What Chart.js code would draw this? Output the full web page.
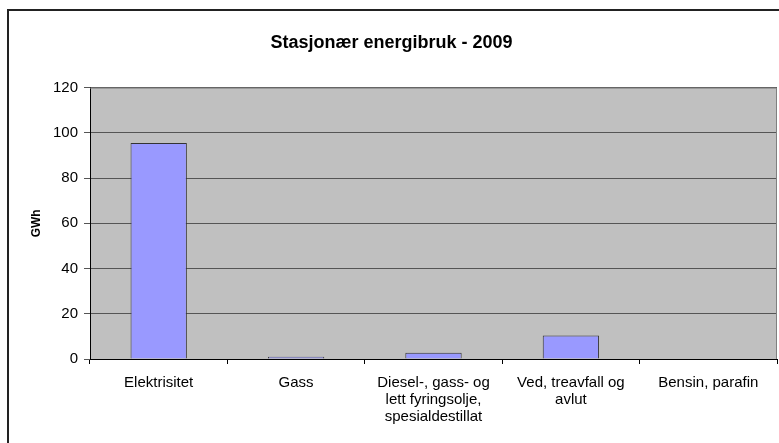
<!DOCTYPE html>
<html>
<head>
<meta charset="utf-8">
<script src="https://cdn.jsdelivr.net/npm/chart.js@4/dist/chart.umd.min.js"></script>
<style>
  html, body { margin: 0; padding: 0; background: #fff; }
  #wrap { width: 779px; height: 443px; position: relative; }
</style>
</head>
<body>
<div id="wrap"><canvas id="myChart"></canvas></div>
<script>
const kategorier = ['Elektrisitet', 'Gass', ['Diesel-, gass- og', 'lett fyringsolje,', 'spesialdestillat'], ['Ved, treavfall og', 'avlut'], 'Bensin, parafin'];
const gwh = [95.5, 1.0, 2.8, 10.4, 0];
const yTicks = [0, 20, 40, 60, 80, 100, 120];

// grå plotflate + ytre ramme som i Excel
const bakgrunn = {
  id: 'bakgrunn',
  beforeDraw(chart) {
    const ctx = chart.ctx;
    const a = chart.chartArea;
    ctx.save();
    ctx.fillStyle = '#c0c0c0';
    ctx.fillRect(a.left, a.top, a.right - a.left, a.bottom - a.top);
    ctx.strokeStyle = '#222';
    ctx.lineWidth = 2;
    ctx.beginPath();
    ctx.moveTo(8, 443);
    ctx.lineTo(8, 10);
    ctx.lineTo(779, 10);
    ctx.stroke();
    ctx.restore();
  },
  afterDatasetsDraw(chart) {
    const ctx = chart.ctx;
    const a = chart.chartArea;
    ctx.save();
    ctx.strokeStyle = '#808080';
    ctx.lineWidth = 1;
    ctx.beginPath();
    ctx.moveTo(a.left, a.top + 0.5);
    ctx.lineTo(a.right - 0.5, a.top + 0.5);
    ctx.lineTo(a.right - 0.5, a.bottom);
    ctx.stroke();
    ctx.restore();
  }
};

const el = document.getElementById('myChart');
new Chart(el, {
  type: 'bar',
  data: {
    labels: kategorier,
    datasets: [{
      data: gwh,
      backgroundColor: '#9999ff',
      borderColor: '#333333',
      borderWidth: 1,
      borderSkipped: 'bottom',
      categoryPercentage: 1,
      barPercentage: 0.41
    }]
  },
  plugins: [bakgrunn],
  options: {
    responsive: true,
    maintainAspectRatio: false,
    animation: false,
    layout: { padding: { top: 10, left: 6, right: 2, bottom: 0 } },
    plugins: {
      legend: { display: false },
      tooltip: { enabled: false },
      title: {
        display: true,
        text: 'Stasjonær energibruk - 2009',
        color: '#000',
        font: { family: 'Liberation Sans, Arial', size: 18, weight: 'bold' },
        padding: { top: 22, bottom: 34 }
      }
    },
    scales: {
      x: {
        afterFit(s) { s.height = 84; },
        grid: { display: true, drawOnChartArea: false, tickLength: 5, color: '#000', offset: true },
        border: { color: '#000', width: 1 },
        ticks: {
          color: '#000',
          padding: 10,
          maxRotation: 0,
          autoSkip: false,
          font: { family: 'Liberation Sans, Arial', size: 15, lineHeight: 1.13 }
        }
      },
      y: {
        min: 0,
        max: 120,
        afterFit(s) { s.width = 84; },
        afterBuildTicks(s) { s.ticks = yTicks.map(v => ({ value: v })); },
        grid: { color: '#555', tickLength: 6, lineWidth: 1 },
        border: { color: '#000', width: 1 },
        ticks: {
          color: '#000',
          padding: 6,
          font: { family: 'Liberation Sans, Arial', size: 15 }
        },
        title: {
          display: true,
          text: 'GWh',
          color: '#000',
          font: { family: 'Liberation Sans, Arial', size: 12, weight: 'bold' },
          padding: { top: 23, bottom: 0 }
        }
      }
    }
  }
});
</script>
</body>
</html>
